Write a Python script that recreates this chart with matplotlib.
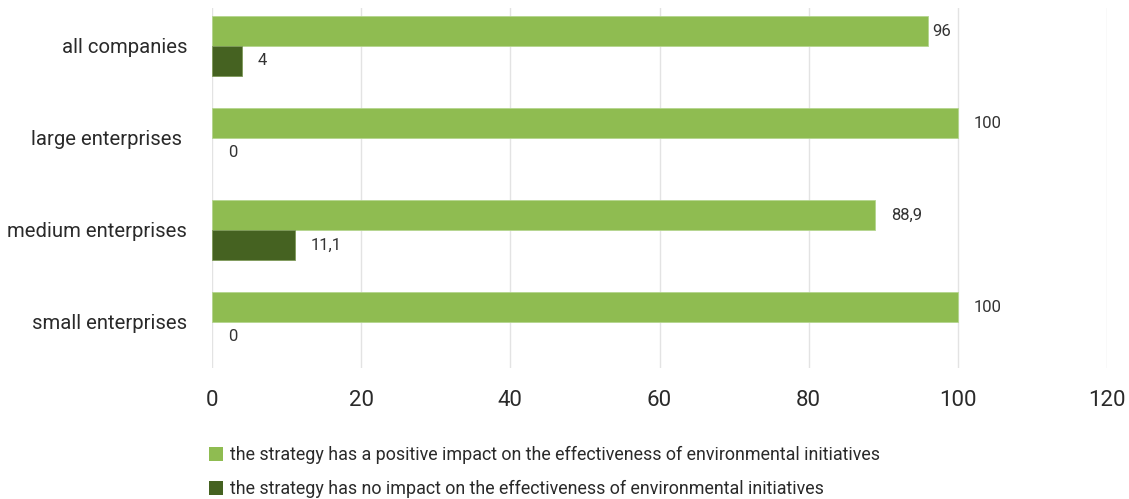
import matplotlib
matplotlib.use("Agg")
import matplotlib.pyplot as plt
from matplotlib.patches import Patch
import numpy as np

categories = ["all companies", "large enterprises ", "medium enterprises", "small enterprises"]
positive = [96, 100, 88.9, 100]
no_impact = [4, 0, 11.1, 0]
series_names = [
    "the strategy has a positive impact on the effectiveness of environmental initiatives",
    "the strategy has no impact on the effectiveness of environmental initiatives",
]
xticks = [0, 20, 40, 60, 80, 100, 120]

c_pos = "#8FBC51"
c_neg = "#456221"
txt = "#2a2a2a"

plt.rcParams["font.family"] = ["Roboto", "DejaVu Sans"]

W, H = 1129, 499
fig = plt.figure(figsize=(W / 100, H / 100), dpi=100)
ax = fig.add_axes([212 / W, (H - 368) / H, (1107 - 212) / W, (368 - 8) / H])

y = np.arange(len(categories))
bh = 0.326
ax.barh(y - bh / 2, positive, height=bh, color=c_pos,
        edgecolor="#B5D58F", linewidth=[0.6 if v > 0 else 0 for v in positive], zorder=3)
ax.barh(y + bh / 2, no_impact, height=bh, color=c_neg,
        edgecolor="#7F9A5A", linewidth=[0.6 if v > 0 else 0 for v in no_impact], zorder=3)

ax.set_xlim(0, 120)
ax.set_ylim(3.5, -0.413)
ax.set_xticks(xticks)
ax.set_xticklabels([str(t) for t in xticks], fontsize=16, color=txt)
ax.set_yticks(y)
ax.set_yticklabels(categories, fontsize=14.6, color=txt)
ax.tick_params(axis="both", length=0)
ax.tick_params(axis="y", pad=18)
ax.tick_params(axis="x", pad=16)
ax.grid(axis="x", color="#E3E3E3", linewidth=1.0, zorder=0)
for s in ax.spines.values():
    s.set_visible(False)

def fmt(v):
    return ("%g" % v).replace(".", ",")

for i, v in enumerate(positive):
    off = 4 if v == 96 else 16
    ax.annotate(fmt(v), (v, i - bh / 2), xytext=(off, 0), textcoords="offset pixels",
                va="center", ha="left", fontsize=12, color="#333333")
for i, v in enumerate(no_impact):
    ax.annotate(fmt(v), (v, i + bh / 2), xytext=(16, 0), textcoords="offset pixels",
                va="center", ha="left", fontsize=12, color="#333333")

handles = [Patch(facecolor=c_pos, edgecolor="none"), Patch(facecolor=c_neg, edgecolor="none")]
fig.legend(handles, series_names, loc="upper left", bbox_to_anchor=(209 / W, 1 - 446 / H),
           frameon=False, handlelength=0.8, handleheight=0.8,
           handletextpad=0.4, labelspacing=0.9, borderaxespad=0, borderpad=0,
           prop={"size": 12.9}, labelcolor=txt)

fig.savefig("out.png", dpi=100)
